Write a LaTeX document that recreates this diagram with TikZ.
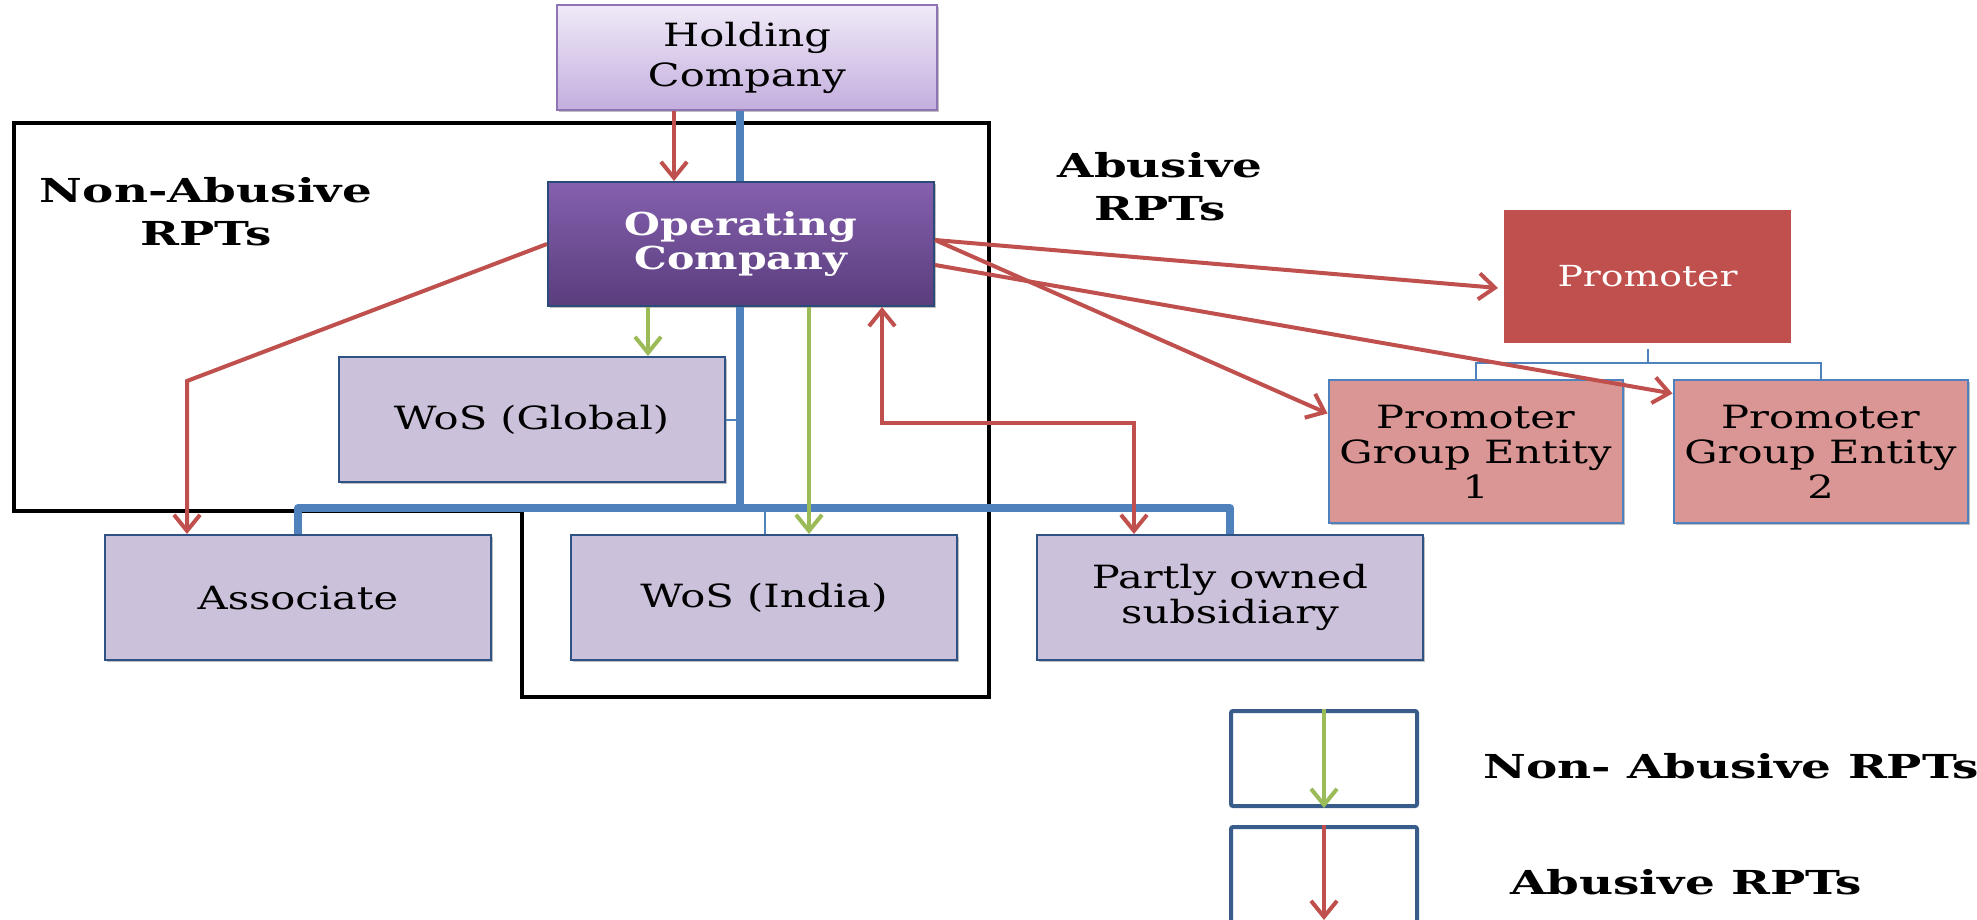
\documentclass[tikz,border=0pt]{standalone}
\usepackage{fontspec}
\setmainfont{DejaVu Serif}[FakeStretch=1.3]
\newfontfamily\tagfamily{DejaVu Serif}[FakeStretch=1.42]
\usetikzlibrary{arrows.meta,shadows}

\definecolor{boxlav}{HTML}{CCC1DA}
\definecolor{boxline}{HTML}{2E5283}
\definecolor{rptred}{HTML}{C0504D}
\definecolor{rptgreen}{HTML}{9BBB59}
\definecolor{orgblue}{HTML}{4F81BD}
\definecolor{entpink}{HTML}{D99694}
\definecolor{legline}{HTML}{385D8A}
\definecolor{holdtop}{HTML}{F0EAF7}
\definecolor{holdbot}{HTML}{C3AEDE}
\definecolor{holdline}{HTML}{8E73B5}
\definecolor{optop}{HTML}{8560AE}
\definecolor{opbot}{HTML}{5A3D7D}
\definecolor{opline}{HTML}{2A4A7A}

\newcommand\boxfont{\fontsize{16}{17.5}\selectfont}
\newcommand\holdfont{\fontsize{16}{20}\selectfont}
\newcommand\promfont{\fontsize{14.5}{17}\selectfont}
\newcommand\opfont{\fontsize{15.8}{17}\selectfont\bfseries}
\newcommand\tagfont{\tagfamily\fontsize{16.5}{21.5}\selectfont\bfseries}

\begin{document}
\begin{tikzpicture}[x=0.5pt,y=-0.5pt,
  soft shadow/.style={drop shadow={shadow xshift=1.2pt,shadow yshift=-1.2pt,opacity=0.25,fill=black}},
  unitbox/.style={draw=boxline,line width=1pt,fill=boxlav,inner sep=0pt,align=center,
    font=\boxfont,minimum width=193pt,minimum height=62.5pt,soft shadow},
  entitybox/.style={draw=orgblue,line width=1pt,fill=entpink,inner sep=0pt,align=center,
    font=\boxfont,minimum width=147pt,minimum height=71.5pt,soft shadow},
  legendbox/.style={draw=legline,line width=2pt,rounded corners=1pt,fill=white,
    minimum width=93pt,inner sep=0pt},
  tag/.style={font=\tagfont,align=center,inner sep=0pt},
  spine/.style={draw=orgblue,line width=4pt},
  twig/.style={draw=orgblue,line width=1pt},
  redlink/.style={draw=rptred,line width=2pt,-{Straight Barb[length=8pt,width=13pt]}},
  greenlink/.style={draw=rptgreen,line width=2pt,-{Straight Barb[length=8pt,width=13pt]}},
  frame/.style={draw=black,line width=2.3pt,line join=miter}
]
\fill[white] (0,0) rectangle (1977,920);
\useasboundingbox (0,0) rectangle (1977,920);

% region of the non-abusive transactions
\draw[frame] (14,123) -- (989,123) -- (989,697) -- (522,697) -- (522,511) -- (14,511) -- cycle;

% entities
\node[draw=holdline,line width=1pt,top color=holdtop,bottom color=holdbot,inner sep=0pt,
  align=center,font=\holdfont,minimum width=190pt,minimum height=52.5pt,soft shadow]
  (hold) at (747,57.5) {Holding\\Company};
\node[draw=opline,line width=1pt,top color=optop,bottom color=opbot,inner sep=0pt,
  align=center,font=\opfont,text=white,
  minimum width=193pt,minimum height=62pt,soft shadow]
  (op) at (741,244) {Operating\\Company};
\node[unitbox] (glob) at (531.5,419.5) {WoS (Global)};
\node[unitbox] (assoc) at (298,597.5) {Associate};
\node[unitbox] (india) at (764,597.5) {WoS (India)};
\node[unitbox] (partly) at (1230,597.5) {Partly owned\\subsidiary};

\node[draw=white,line width=3pt,fill=rptred,inner sep=0pt,font=\promfont,text=white,
  minimum width=146.5pt,minimum height=69.5pt,soft shadow]
  (prom) at (1647.5,276.5) {Promoter};
\node[entitybox] (ent1) at (1475.5,451.5) {Promoter\\Group Entity\\1};
\node[entitybox] (ent2) at (1820.5,451.5) {Promoter\\Group Entity\\2};

% region captions
\node[tag] (naLabel) at (206,211.5) {Non-Abusive\\RPTs};
\node[tag] (abLabel) at (1160,186.5) {Abusive\\RPTs};

% ownership tree
\coordinate (spineX) at (740,0);
\coordinate (busM) at (740,508);
\coordinate (indiaX) at (765,0);
\coordinate (promBus) at (1647.5,363);
\draw[spine] (hold.south -| spineX) -- (op.north -| spineX);
\draw[spine] (op.south -| spineX) -- (busM);
\draw[spine,line join=round] (assoc.north) |- (busM) -| (partly.north);
\draw[twig] (glob.east) -- (glob.east -| spineX);
\draw[twig] (busM) -| (india.north -| indiaX);
\draw[twig] (prom.south) -- (promBus);
\draw[twig] (ent1.north) |- (promBus) -| (ent2.north);

% non-abusive transactions
\coordinate (gA) at (648,0);
\coordinate (gB) at (809,0);
\draw[greenlink] (op.south -| gA) -- (glob.north -| gA);
\draw[greenlink] (op.south -| gB) -- (india.north -| gB);

% abusive transactions
\coordinate (hX) at (674,0);
\coordinate (aBend) at (187,381);
\coordinate (pBendL) at (882,423);
\coordinate (pBendR) at (1134,423);
\draw[redlink] (hold.south -| hX) -- (op.north -| hX);
\draw[redlink] (op.west) -- (aBend) -- (assoc.north -| aBend);
\draw[redlink,{Straight Barb[length=8pt,width=13pt]}-{Straight Barb[length=8pt,width=13pt]}]
  (op.south -| pBendL) -- (pBendL) -- (pBendR) -- (partly.north -| pBendR);
\draw[redlink] ([yshift=2pt]op.east) -- ([yshift=-5.75pt]prom.west);
\draw[redlink] ([yshift=2pt]op.east) -- ([yshift=19pt]ent1.west);
\draw[redlink] ([yshift=-10.5pt]op.east) -- ([yshift=29pt]ent2.west);

% key
\node[legendbox,minimum height=47.5pt] (keyGreen) at (1324,758.5) {};
\node[legendbox,minimum height=49pt] (keyRed) at (1324,876) {};
\draw[greenlink] (keyGreen.north) -- (keyGreen.south);
\draw[redlink] (keyRed.north) -- ([yshift=3.5pt]keyRed.south);
\node[tag,anchor=base west] (keyGreenText) at (1483,778) {Non- Abusive RPTs};
\node[tag,anchor=base west] (keyRedText) at (1510,894) {Abusive RPTs};
\end{tikzpicture}
\end{document}
